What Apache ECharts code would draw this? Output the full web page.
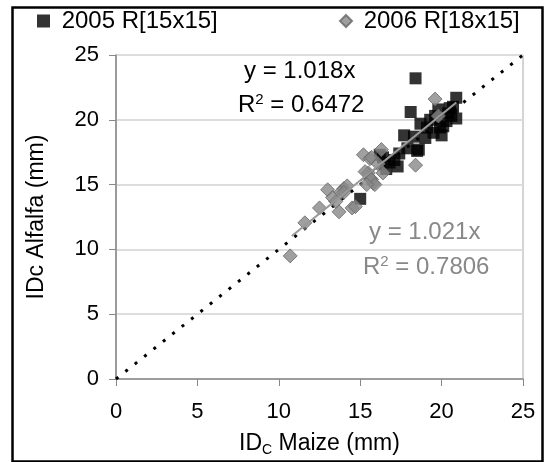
<!DOCTYPE html>
<html>
<head>
<meta charset="utf-8">
<script src="https://cdn.jsdelivr.net/npm/echarts@6/dist/echarts.min.js"></script>
<style>
  html, body { margin: 0; padding: 0; background: #fff; }
  #chart { width: 546px; height: 462px; }
</style>
</head>
<body>
<div id="chart"></div>
<script>
// 2005 R[15x15] points [maize, alfalfa]
const data2005 = [
  [18.4, 23.2], [18.1, 20.6], [19.8, 20.8], [20.7, 21.0], [20.9, 21.7],
  [20.4, 20.5], [20.9, 20.1], [18.7, 19.7], [19.3, 20.0], [20.0, 18.8],
  [19.5, 19.0], [19.0, 18.6], [17.7, 18.8], [17.9, 17.8], [18.6, 17.7],
  [17.3, 16.4], [16.4, 17.1], [16.8, 16.7], [17.4, 17.4], [20.1, 19.5],
  [20.3, 19.9], [18.5, 17.6], [15.0, 13.9], [16.2, 17.3], [19.6, 20.3],
  [20.5, 20.9], [19.9, 19.4], [18.3, 18.7], [17.1, 16.9], [16.6, 16.2],
  [20.6, 20.3], [19.1, 19.4]
];
// 2006 R[18x15] points
const data2006 = [
  [10.7, 9.5], [11.6, 12.05], [12.5, 13.2], [13.0, 14.6], [13.7, 12.9],
  [13.5, 13.7], [14.0, 14.7], [13.8, 14.4], [14.5, 13.2], [14.7, 13.3],
  [15.2, 17.3], [15.5, 15.9], [15.8, 15.1], [16.4, 15.9], [16.3, 17.7],
  [15.7, 15.4], [14.2, 14.9], [13.3, 14.0], [15.6, 17.0], [18.4, 16.5],
  [15.3, 16.0], [15.6, 15.5], [15.9, 15.0], [15.4, 15.0], [19.6, 21.6],
  [15.7, 17.1], [14.0, 14.4], [16.1, 16.6], [19.8, 20.3]
];
// trend line end points and the 1:1 line
const trend2005 = [[15.0, 15.27], [20.9, 21.28]];
const trend2006 = [[10.8, 11.03], [20.9, 21.34]];
const oneToOne = [[0, 0], [25, 25]];

const font = 'Liberation Sans, Arial, sans-serif';
const chart = echarts.init(document.getElementById('chart'));

const legendText = { fontSize: 24, color: '#000', fontFamily: font };

chart.setOption({
  animation: false,
  textStyle: { fontFamily: font },
  legend: [
    {
      top: 4, left: 32, itemWidth: 13, itemHeight: 13, itemGap: 10,
      textStyle: legendText, formatter: name => ' ' + name,
      data: [{ name: '2005 R[15x15]', icon: 'rect' }]
    },
    {
      top: 4, left: 334, itemWidth: 12, itemHeight: 12, itemGap: 10,
      textStyle: legendText, formatter: name => ' ' + name,
      data: [{ name: '2006 R[18x15]', icon: 'diamond' }]
    }
  ],
  grid: { left: 116, right: 23, top: 55, bottom: 82, show: true, borderColor: '#aaa', borderWidth: 1 },
  xAxis: {
    type: 'value', min: 0, max: 25, interval: 5,
    name: '{a|ID}{s|C}{a| Maize (mm)}',
    nameLocation: 'middle', nameGap: 52,
    nameTextStyle: {
      rich: {
        a: { fontSize: 23, fontFamily: font, color: '#000' },
        s: { fontSize: 14, fontFamily: font, color: '#000', verticalAlign: 'bottom', padding: [12, 0, 0, 0] }
      }
    },
    axisLine: { lineStyle: { color: '#888', width: 1.5 } },
    axisTick: { show: true, inside: false, length: 7, lineStyle: { color: '#888' } },
    axisLabel: { fontSize: 22, color: '#000', margin: 22, fontFamily: font },
    splitLine: { show: false }
  },
  yAxis: {
    type: 'value', min: 0, max: 25, interval: 5,
    name: 'IDc Alfalfa (mm)',
    nameLocation: 'middle', nameGap: 68,
    nameTextStyle: { fontSize: 23, fontFamily: font, color: '#000' },
    axisLine: { show: true, lineStyle: { color: '#888', width: 1.5 } },
    axisTick: { show: true, inside: false, length: 7, lineStyle: { color: '#888' } },
    axisLabel: { fontSize: 22, color: '#000', margin: 17, fontFamily: font },
    splitLine: { show: true, lineStyle: { color: '#ddd', width: 2 } }
  },
  series: [
    {
      name: '1:1', type: 'line', data: oneToOne, symbol: 'none', z: 1,
      lineStyle: { color: '#000', width: 3, type: [3, 9] }
    },
    {
      name: '2005 R[15x15]', type: 'scatter', data: data2005,
      symbol: 'rect', symbolSize: 12, z: 3,
      itemStyle: { color: '#000' }
    },
    {
      name: '2006 R[18x15]', type: 'scatter', data: data2006,
      symbol: 'diamond', symbolSize: 14, z: 4,
      itemStyle: { color: '#888', borderColor: '#666', borderWidth: 1 }
    },
    {
      name: 'trend2005', type: 'line', data: trend2005, symbol: 'none', z: 5,
      lineStyle: { color: '#444', width: 1.5 }
    },
    {
      name: 'trend2006', type: 'line', data: trend2006, symbol: 'none', z: 5,
      lineStyle: { color: '#999', width: 2 }
    }
  ],
  graphic: [
    { type: 'rect', left: 10, top: 5, shape: { width: 530, height: 454 },
      style: { fill: 'none', stroke: '#000', lineWidth: 2.5 }, silent: true },
    { type: 'text', left: 244, top: 59,
      style: { text: 'y = 1.018x', fontSize: 24, fontFamily: font, fill: '#000' } },
    { type: 'text', left: 238, top: 92,
      style: { rich: { a: { fontSize: 24, fontFamily: font, fill: '#000' },
                       s: { fontSize: 15, fontFamily: font, fill: '#000', verticalAlign: 'top', padding: [0, 0, 12, 0] } },
               text: '{a|R}{s|2}{a| = 0.6472}' } },
    { type: 'text', left: 369, top: 220,
      style: { text: 'y = 1.021x', fontSize: 24, fontFamily: font, fill: '#888' } },
    { type: 'text', left: 363, top: 254,
      style: { rich: { a: { fontSize: 24, fontFamily: font, fill: '#888' },
                       s: { fontSize: 15, fontFamily: font, fill: '#888', verticalAlign: 'top', padding: [0, 0, 12, 0] } },
               text: '{a|R}{s|2}{a| = 0.7806}' } }
  ]
});
</script>
</body>
</html>
